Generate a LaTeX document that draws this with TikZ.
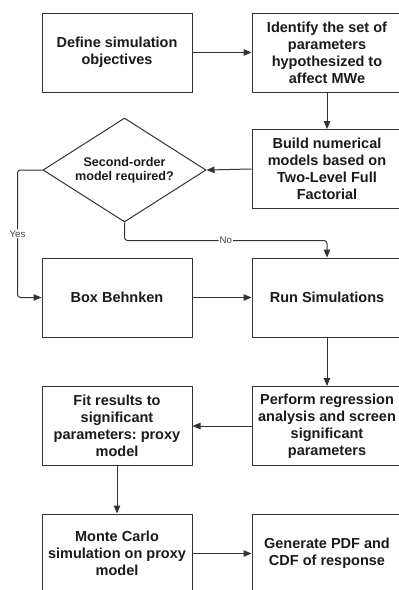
\documentclass[tikz,border=0pt]{standalone}
\usepackage{fontspec}
\setmainfont{Liberation Sans}
\frenchspacing
\usetikzlibrary{arrows.meta,shapes.geometric}
\definecolor{lc}{HTML}{333333}
\definecolor{tc}{HTML}{1A1A1A}
\definecolor{lbc}{HTML}{444444}
\tikzset{
  box/.style={draw=lc, line width=1pt, minimum width=150pt, minimum height=79pt,
    inner sep=0pt, align=center, text=tc,
    font=\bfseries\fontsize{14.5}{17}\selectfont},
  dec/.style={draw=lc, line width=1pt, diamond, aspect=1.57, minimum width=163pt,
    minimum height=104pt, inner sep=0pt, align=center, text=tc,
    font=\bfseries\fontsize{12.6}{14}\selectfont},
  conn/.style={draw=lc, line width=1pt, rounded corners=3pt,
    -{Triangle[length=8pt,width=6.5pt]}},
  lbl/.style={fill=white, inner sep=1pt, text=lbc, font=\fontsize{9.7}{11}\selectfont}
}
\begin{document}
\begin{tikzpicture}[x=1pt,y=-1pt]
\useasboundingbox (0,0) rectangle (399,590);
\clip (0,0) rectangle (399,590);
\node[box] (def) at (117,52.5) {Define simulation\\objectives};
\node[box] (ide) at (327,52.5) {Identify the set of\\parameters\\hypothesized to\\affect MWe};
\node[box] (bui) at (327,169) {Build numerical\\models based on\\Two-Level Full\\Factorial};
\node[dec] (dia) at (124.5,170) {Second-order\\model required?};
\node[box] (beh) at (117,297.5) {Box Behnken};
\node[box] (run) at (327,297.5) {Run Simulations};
\node[box] (fit) at (117,426) {Fit results to\\significant\\parameters: proxy\\model};
\node[box] (per) at (327,426) {Perform regression\\analysis and screen\\significant\\parameters};
\node[box] (mon) at (117,553.5) {Monte Carlo\\simulation on proxy\\model};
\node[box] (gen) at (327,553.5) {Generate PDF and\\CDF of response};
\draw[conn] (def.east) -- (ide.west);
\draw[conn] (ide.south) -- (bui.north);
\draw[conn] (bui.west) -- (dia.east);
\draw[conn] (dia.west) -- ++(-25,0) |- node[lbl,pos=0.25] {Yes} (beh.west);
\draw[conn] (dia.south) -- ++(0,18) -| node[lbl,pos=0.25] {No} (run.north);
\draw[conn] (beh.east) -- (run.west);
\draw[conn] (run.south) -- (per.north);
\draw[conn] (per.west) -- (fit.east);
\draw[conn] (fit.south) -- (mon.north);
\draw[conn] (mon.east) -- (gen.west);
\end{tikzpicture}
\end{document}
